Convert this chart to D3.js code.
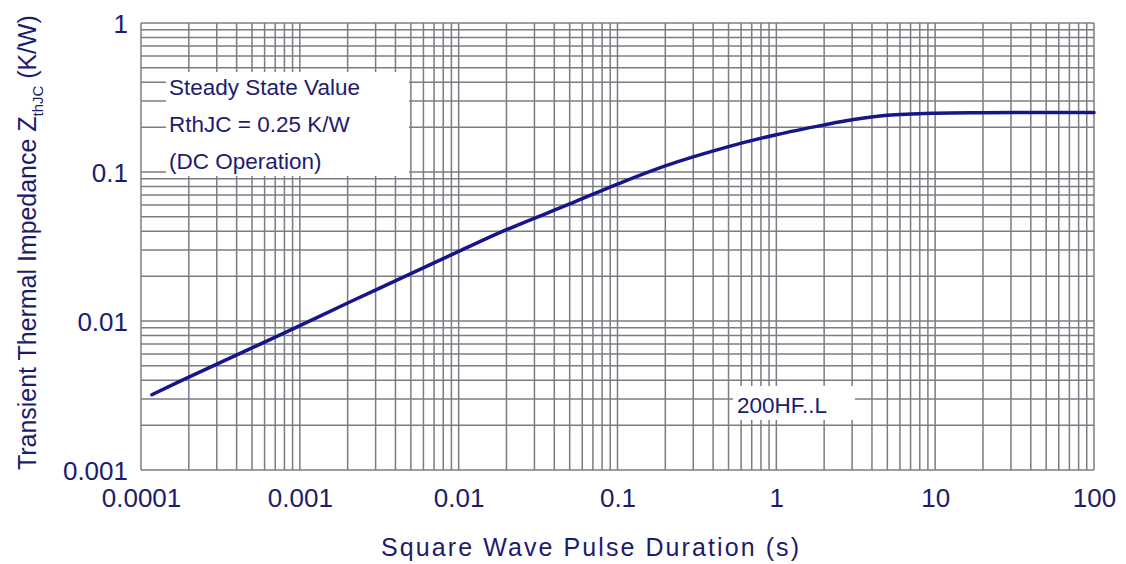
<!DOCTYPE html>
<html>
<head>
<meta charset="utf-8">
<script src="https://cdn.jsdelivr.net/npm/d3@7"></script>
<style>
  html, body { margin: 0; padding: 0; background: #fff; }
  svg { display: block; }
  text { font-family: "Liberation Sans", Arial, sans-serif; fill: #1c1c6e; }
</style>
</head>
<body>
<svg id="chart" width="1126" height="564"></svg>
<script>
// ---- data ----
const pulseDuration = [0.000117, 0.0002, 0.0005, 0.001, 0.002, 0.005, 0.01, 0.02, 0.05, 0.1, 0.2, 0.5, 1, 2, 3, 5, 10, 20, 50, 100];
const zthJC = [0.0032, 0.0042, 0.0066, 0.0093, 0.0132, 0.0208, 0.0293, 0.041, 0.061, 0.083, 0.110, 0.148, 0.178, 0.207, 0.224, 0.240, 0.248, 0.250, 0.251, 0.251];
const xTickLabels = ["0.0001", "0.001", "0.01", "0.1", "1", "10", "100"];
const xTickValues = [0.0001, 0.001, 0.01, 0.1, 1, 10, 100];
const yTickLabels = ["0.001", "0.01", "0.1", "1"];
const yTickValues = [0.001, 0.01, 0.1, 1];
const annotationLines = ["Steady State Value", "RthJC = 0.25 K/W", "(DC Operation)"];
const partLabel = "200HF..L";

// ---- layout ----
const svg = d3.select("#chart");
const L = 141, R = 1094, T = 23, B = 470;
const x = d3.scaleLog().domain([0.0001, 100]).range([L, R]);
const y = d3.scaleLog().domain([0.001, 1]).range([B, T]);

// grid values 1..9 per decade
const xGrid = [], yGrid = [];
for (let e = -4; e < 2; e++) for (let m = 1; m <= 9; m++) xGrid.push(m * Math.pow(10, e));
xGrid.push(100);
for (let e = -3; e < 0; e++) for (let m = 1; m <= 9; m++) yGrid.push(m * Math.pow(10, e));
yGrid.push(1);

const gridColor = "#7c7c84";
const g = svg.append("g");

g.append("g").selectAll("line").data(yGrid).join("line")
  .attr("x1", L).attr("x2", R)
  .attr("y1", d => y(d)).attr("y2", d => y(d))
  .attr("stroke", gridColor).attr("stroke-width", 1.5);

g.append("g").selectAll("line").data(xGrid).join("line")
  .attr("y1", T).attr("y2", B)
  .attr("x1", d => x(d)).attr("x2", d => x(d))
  .attr("stroke", gridColor).attr("stroke-width", 1.5);

// annotation boxes (cover grid)
svg.append("rect").attr("x", 166).attr("y", 72).attr("width", 243).attr("height", 104).attr("fill", "#fff");
svg.append("rect").attr("x", 733).attr("y", 386).attr("width", 122).attr("height", 34).attr("fill", "#fff");

const ann = svg.append("g").attr("font-size", 22.5);
annotationLines.forEach((s, i) => {
  ann.append("text").attr("x", 169).attr("y", 95 + i * 37).text(s);
});
svg.append("text").attr("x", 737).attr("y", 413).attr("font-size", 22.5).text(partLabel);

// curve
const line = d3.line()
  .x(d => x(d[0])).y(d => y(d[1]))
  .curve(d3.curveCatmullRom.alpha(0.5));
svg.append("path")
  .datum(pulseDuration.map((t, i) => [t, zthJC[i]]))
  .attr("d", line)
  .attr("fill", "none")
  .attr("stroke", "#16168a")
  .attr("stroke-width", 3.5)
  .attr("stroke-linejoin", "round")
  .attr("stroke-linecap", "round");

// axes (labels only, no tick marks)
const xAxis = d3.axisBottom(x).tickValues(xTickValues)
  .tickFormat((d, i) => xTickLabels[i]).tickSize(0).tickPadding(0);
const xa = svg.append("g").attr("transform", `translate(0,${B})`).call(xAxis);
xa.select(".domain").remove();
xa.selectAll("text").attr("font-size", 26).attr("dy", null).attr("y", 37)
  .style("font-family", '"Liberation Sans", Arial, sans-serif').attr("fill", "#1c1c6e");

const yAxis = d3.axisLeft(y).tickValues(yTickValues)
  .tickFormat((d, i) => yTickLabels[i]).tickSize(0).tickPadding(0);
const ya = svg.append("g").attr("transform", `translate(${L - 13},0)`).call(yAxis);
ya.select(".domain").remove();
ya.selectAll("text").attr("font-size", 26).attr("x", 0).attr("dy", "0.36em")
  .style("font-family", '"Liberation Sans", Arial, sans-serif').attr("fill", "#1c1c6e");

// x title
svg.append("text").attr("x", 590).attr("y", 556)
  .attr("text-anchor", "middle").attr("font-size", 25)
  .attr("textLength", 418).attr("lengthAdjust", "spacing")
  .text("Square Wave Pulse Duration (s)");

// y title
const yt = svg.append("text")
  .attr("transform", "translate(36,470) rotate(-90)")
  .attr("font-size", 25);
yt.append("tspan").text("Transient Thermal Impedance Z");
yt.append("tspan").attr("font-size", 15).attr("dy", 7).text("thJC");
yt.append("tspan").attr("dy", -7).text(" (K/W)");
// fit the title to the reference's length
const len = yt.node().getComputedTextLength();
const target = 455;
yt.attr("transform", `translate(36,470) rotate(-90) scale(${target / len},1)`);
</script>
</body>
</html>
